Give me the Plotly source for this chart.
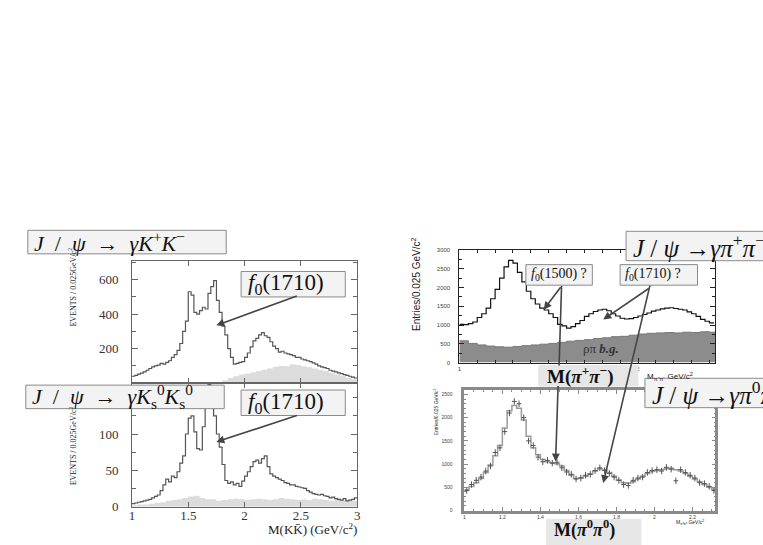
import numpy as np
import plotly.graph_objects as go

W, H = 763, 545
SERIF = "Liberation Serif, DejaVu Serif, serif"
SANS = "Liberation Sans, Arial, sans-serif"

# J/psi -> gamma K+ K-, 0.025 GeV bins from 1.0
kk_start, kk_width = 1.0, 0.025
kk_counts = [
    40, 45, 52, 58, 65, 75, 85, 95, 100, 105, 115, 110, 120, 130, 150, 165,
    190, 230, 300, 360, 530, 510, 410, 400, 420, 440, 430, 520, 560, 595, 480, 410,
    330, 280, 200, 150, 110, 115, 120, 125, 150, 175, 210, 245, 260, 280, 293, 275,
    265, 240, 215, 200, 180, 185, 175, 170, 165, 160, 150, 150, 140, 135, 130, 125,
    118, 110, 100, 95, 90, 85, 75, 70, 65, 60, 55, 50, 45, 40, 35, 30,
]
# sideband background, 0.05 GeV bins
kk_bg_width = 0.05
kk_bg = [
    0, 0, 0, 0, 0, 0, 0, 0, 0, 0,
    0, 0, 0, 0, 0, 5, 15, 30, 40, 50,
    55, 62, 70, 78, 85, 95, 100, 98, 110, 105,
    98, 92, 85, 78, 70, 60, 50, 42, 32, 22,
]

# J/psi -> gamma Ks Ks
ks_counts = [
    4, 5, 6, 7, 8, 9, 10, 12, 14, 16, 22, 30, 38, 34, 42, 40,
    48, 60, 70, 100, 122, 125, 103, 80, 78, 110, 150, 168, 160, 125, 100, 82,
    58, 36, 32, 34, 30, 32, 28, 35, 42, 48, 55, 62, 64, 60, 66, 70,
    55, 45, 42, 40, 38, 36, 33, 32, 30, 30, 28, 27, 26, 25, 22, 20,
    18, 17, 16, 17, 15, 14, 12, 13, 11, 10, 9, 11, 8, 9, 10, 12,
]
ks_bg = [
    2, 3, 3, 4, 5, 6, 8, 9, 10, 12,
    14, 15, 12, 10, 10, 8, 9, 10, 11, 10,
    9, 10, 11, 10, 9, 10, 12, 11, 10, 9,
    10, 9, 11, 10, 9, 8, 10, 9, 8, 8,
]

# J/psi -> gamma pi+ pi-, 0.025 GeV bins from 1.0
pp_width = 0.025
pp_counts = [
    1020, 1010, 1040, 1080, 1200, 1300, 1450, 1700, 1950, 2250, 2550, 2720,
    2650, 2400, 2150, 1900, 1700, 1560, 1450, 1400, 1300, 1200, 1020, 980,
    920, 960, 1040, 1120, 1230, 1300, 1360, 1400, 1420, 1380, 1300, 1240,
    1180, 1160, 1170, 1200, 1240, 1280, 1320, 1370, 1400, 1430, 1450, 1460,
    1440, 1420, 1400, 1350, 1300, 1230, 1150, 1100, 1060,
]
# rho pi background, 0.05 GeV bins
rhopi_width = 0.05
rhopi_bg = [
    580, 510, 470, 440, 420, 410, 430, 450, 470, 490, 510, 540, 570, 590, 610,
    640, 660, 690, 700, 730, 760, 780, 790, 800, 790, 810, 800, 820, 810,
]

# J/psi -> gamma pi0 pi0
p0_width = 0.025
p0_fit = [
    450, 520, 600, 690, 820, 980, 1180, 1400, 1780, 2150, 2260, 2200, 1950, 1600,
    1350, 1200, 1100, 1050, 1030, 1010, 960, 860, 760, 690, 700, 740, 790, 850,
    900, 880, 820, 740, 660, 600, 590, 620, 680, 740, 800, 840, 860, 880, 900,
    910, 880, 850, 800, 740, 680, 620, 560, 500, 460,
]
p0_data = [
    430, 560, 650, 720, 850, 960, 1250, 1350, 1700, 2100, 2350, 2300, 2000, 1500,
    1400, 1150, 1050, 1080, 1020, 1040, 920, 830, 780, 680, 700, 760, 780, 860,
    920, 860, 800, 720, 650, 560, 540, 650, 700, 720, 820, 860, 880, 850, 930,
    890, 640, 880, 820, 760, 700, 600, 580, 520, 430,
]


def px(x):
    return x / W


def py(y):
    return 1 - y / H


def steps(start, width, values):
    edges = start + width * np.arange(len(values) + 1)
    return edges, list(values) + [values[-1]]


fig = go.Figure()

# left column
x, y = steps(kk_start, kk_bg_width, kk_bg)
fig.add_trace(go.Scatter(x=x, y=y, line_shape="hv", fill="tozeroy", fillcolor="#dcdcdc",
                         line=dict(width=0), xaxis="x", yaxis="y"))
x, y = steps(kk_start, kk_width, kk_counts)
fig.add_trace(go.Scatter(x=x, y=y, line_shape="hv", line=dict(color="#555", width=1.2),
                         xaxis="x", yaxis="y"))
x, y = steps(kk_start, kk_bg_width, ks_bg)
fig.add_trace(go.Scatter(x=x, y=y, line_shape="hv", fill="tozeroy", fillcolor="#dcdcdc",
                         line=dict(width=0), xaxis="x2", yaxis="y2"))
x, y = steps(kk_start, kk_width, ks_counts)
fig.add_trace(go.Scatter(x=x, y=y, line_shape="hv", line=dict(color="#555", width=1.2),
                         xaxis="x2", yaxis="y2"))

# right column
x, y = steps(1.0, rhopi_width, rhopi_bg)
fig.add_trace(go.Scatter(x=x, y=y, line_shape="hv", fill="tozeroy", fillcolor="#8c8c8c",
                         line=dict(color="#777", width=1), xaxis="x3", yaxis="y3"))
x, y = steps(1.0, pp_width, pp_counts)
fig.add_trace(go.Scatter(x=x, y=y, line_shape="hv", line=dict(color="#111", width=1.2),
                         xaxis="x3", yaxis="y3"))
x, y = steps(1.0, p0_width, p0_fit)
fig.add_trace(go.Scatter(x=x, y=y, line_shape="hv", line=dict(color="#9a9a9a", width=1.5),
                         xaxis="x4", yaxis="y4"))
centers = 1.0 + p0_width * (np.arange(len(p0_data)) + 0.5)
fig.add_trace(go.Scatter(x=centers, y=p0_data, mode="markers", marker=dict(size=1, color="#555"),
                         error_x=dict(type="constant", value=p0_width / 2, color="#555",
                                      thickness=1, width=0),
                         error_y=dict(type="constant", value=70, color="#555",
                                      thickness=1, width=0),
                         xaxis="x4", yaxis="y4"))


def frame(color, width, **kw):
    d = dict(showline=True, linecolor=color, linewidth=width, mirror="ticks",
             ticks="inside", tickcolor=color, showgrid=False, zeroline=False)
    d.update(kw)
    return d


left_tick = dict(family=SERIF, size=13, color="#333")
right_tick = dict(family=SANS, size=6, color="#444")

fig.update_layout(
    width=W, height=H, margin=dict(l=0, r=0, t=0, b=0),
    paper_bgcolor="white", plot_bgcolor="white", showlegend=False,
    xaxis=frame("#666", 1, domain=[px(130), px(357)], range=[1, 3], anchor="y",
                showticklabels=False, tickvals=[1.5, 2, 2.5], ticklen=5),
    yaxis=frame("#666", 1, domain=[py(388), py(263)], range=[0, 710], anchor="x",
                tickvals=[200, 400, 600], ticklen=6, tickfont=left_tick,
                ticklabelstandoff=10, minor=dict(dtick=100, ticks="inside", ticklen=4)),
    xaxis2=frame("#666", 1, domain=[px(130), px(357)], range=[1, 3], anchor="y2",
                 tickvals=[1, 1.5, 2, 2.5, 3], ticktext=["1", "1.5", "2", "2.5", "3"],
                 ticklen=5, tickfont=left_tick, ticklabelstandoff=-3),
    yaxis2=frame("#666", 1, domain=[py(514), py(388)], range=[0, 170], anchor="x2",
                 tickvals=[0, 50, 100], ticklen=6, tickfont=left_tick,
                 ticklabelstandoff=10, minor=dict(dtick=25, ticks="inside", ticklen=4)),
    xaxis3=frame("#222", 1, domain=[px(460), px(718)], range=[1, 2.433], anchor="y3",
                 tickvals=[1, 2], ticklen=5, tickfont=right_tick,
                 minor=dict(dtick=0.1, ticks="inside", ticklen=3)),
    yaxis3=frame("#222", 1, domain=[py(367), py(252)], range=[0, 3000], anchor="x3",
                 dtick=500, ticklen=5, tickfont=right_tick, ticklabelstandoff=7,
                 minor=dict(dtick=250, ticks="inside", ticklen=3)),
    xaxis4=frame("#8a8a8a", 2.5, domain=[px(465), px(718)], range=[1, 2.32], anchor="y4",
                 tickvals=[1, 1.2, 1.4, 1.6, 1.8, 2, 2.2], ticklen=4,
                 tickfont=dict(family=SANS, size=5, color="#444"),
                 minor=dict(dtick=0.05, ticks="inside", ticklen=2)),
    yaxis4=frame("#8a8a8a", 2.5, domain=[py(518), py(395)], range=[0, 2595], anchor="x4",
                 dtick=500, ticklen=4, tickfont=dict(family=SANS, size=5, color="#444"),
                 ticklabelstandoff=8, minor=dict(dtick=100, ticks="inside", ticklen=2)),
)

ann = []
shapes = []


def box(x0, x1, y0, y1, text, size, bg="#f3f3f3", border="#8a8a8a", pad=4, ty=None):
    shapes.append(dict(type="rect", xref="paper", yref="paper", layer="above",
                       x0=px(x0), x1=px(x1), y0=py(y1), y1=py(y0),
                       fillcolor=bg, line=dict(color=border, width=1)))
    ann.append(dict(xref="paper", yref="paper", x=px(x0 + pad),
                    y=py(ty if ty is not None else (y0 + y1) / 2),
                    xanchor="left", yanchor="middle", text=text, showarrow=False,
                    font=dict(family=SERIF, size=size, color="#111")))


def arrow(hx, hy, tx, ty, color="#444", width=1.6, head=2):
    ann.append(dict(xref="paper", yref="paper", x=px(hx), y=py(hy), text="",
                    showarrow=True, ax=tx - hx, ay=ty - hy, arrowcolor=color,
                    arrowwidth=width, arrowhead=head, arrowsize=1))


def label(x, y, text, size, family=SERIF, angle=0, xanchor="center", color="#222"):
    ann.append(dict(xref="paper", yref="paper", x=px(x), y=py(y), text=text,
                    showarrow=False, textangle=angle, xanchor=xanchor, yanchor="middle",
                    font=dict(family=family, size=size, color=color)))


# axis titles
label(70, 290, "EVENTS / 0.025GeV/c<sup>2</sup>", 8, angle=-90)
label(70, 452, "EVENTS / 0.025GeV/c<sup>2</sup>", 8, angle=-90)
label(359, 537, "M(KK\u0304) (GeV/c<sup>2</sup>)", 13, xanchor="right")
label(416, 287, "Entries/0.025 GeV/c<sup>2</sup>", 10, family=SANS, angle=-90)
label(436, 417, "Entries/0.025 GeV/c<sup>2</sup>", 5, family=SANS, angle=-90)
label(692, 530, "M<sub>\u03c0\u2070\u03c0\u2070</sub> GeV/c<sup>2</sup>", 5, family=SANS)
label(672, 381, "M<sub>\u03c0\u207a\u03c0\u207b</sub> GeV/c<sup>2</sup>", 8, family=SANS)
label(603, 353, "\u03c1\u03c0 <b><i>b.g.</i></b>", 13, color="#333")

# left column labels
arrow(215, 329, 297, 299)
arrow(215, 448, 297, 421)
box(25, 225, 232, 256, "<i>J</i>  /  <i>\u03c8</i>  \u2192  <i>\u03b3K</i><sup>+</sup><i>K</i><sup>\u2212</sup>", 22)
box(240, 345, 274, 300, "<i>f</i><sub>0</sub>(1710)", 23, pad=5)
box(23, 223, 390, 414, "<i>J</i>  /  <i>\u03c8</i>  \u2192  <i>\u03b3K</i><sub>s</sub><sup>0</sup><i>K</i><sub>s</sub><sup>0</sup>", 22)
box(240, 345, 395, 421, "<i>f</i><sub>0</sub>(1710)", 23, pad=5)

# right column labels
arrow(545, 313, 563, 289)
arrow(560.5, 370, 563, 289, head=0)
arrow(557, 468, 559.5, 391)
arrow(605, 323, 652, 291)
box(540, 640, 370, 391, "<b>M(<i>\u03c0</i><sup>+</sup><i>\u03c0</i><sup>\u2212</sup>)</b>", 19,
    bg="#e6e6e6", border="#e6e6e6", pad=6)
arrow(605, 490, 652, 291)
box(527, 594, 267, 288, "<i>f</i><sub>0</sub>(1500) ?", 14, pad=3)
box(622, 700, 267, 288, "<i>f</i><sub>0</sub>(1710) ?", 14, pad=3)
box(628, 790, 233, 263, "<i>J</i> / <i>\u03c8</i> \u2192<i>\u03b3\u03c0</i><sup>+</sup><i>\u03c0</i><sup>\u2212</sup>", 25, pad=5)
box(647, 790, 383, 413, "<i>J</i> / <i>\u03c8</i> \u2192<i>\u03b3\u03c0</i><sup>0</sup><i>\u03c0</i><sup>0</sup>", 25, pad=5)
box(548, 643, 527, 560, "<b>M(<i>\u03c0</i><sup>0</sup><i>\u03c0</i><sup>0</sup>)</b>", 18,
    bg="#e6e6e6", border="#e6e6e6", pad=5, ty=537)

fig.update_layout(annotations=ann, shapes=shapes)
fig.write_html("out.html", config={"displayModeBar": False},
               post_script="document.body.style.margin = '0px';")
